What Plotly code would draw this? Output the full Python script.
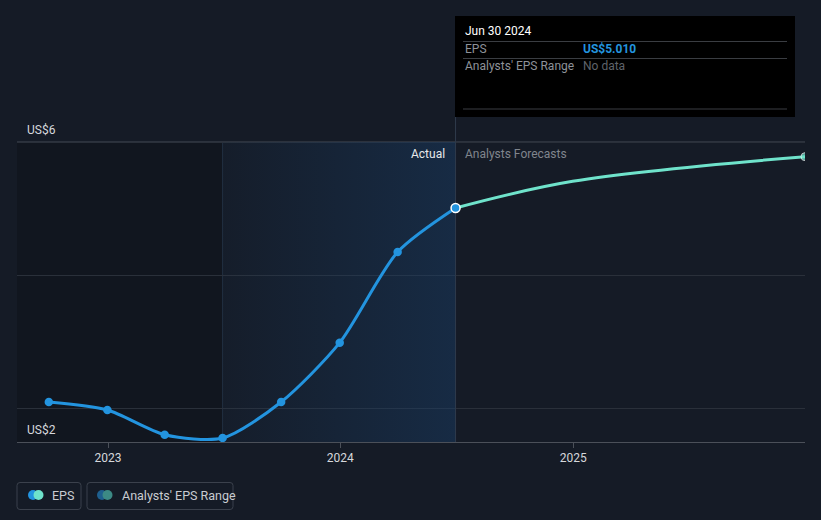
import plotly.graph_objects as go

# ---- data ----
actual_dates = ["2022-09-30", "2022-12-31", "2023-03-31", "2023-06-30",
                "2023-09-30", "2023-12-31", "2024-03-31", "2024-06-30"]
actual_eps = [2.10, 1.98, 1.61, 1.56, 2.10, 2.99, 4.35, 5.01]
forecast_dates = ["2024-06-30", "2024-12-31", "2025-12-31"]
forecast_eps = [5.01, 5.41, 5.78]
tick_dates = ["2023-01-01", "2024-01-01", "2025-01-01"]
tick_labels = ["2023", "2024", "2025"]
y_labels = ["US$6", "US$2"]
grid_values = [2, 4, 6]

W, H = 821, 520
L, R, T, B = 17, 16, 16, 78
PW, PH = W - L - R, H - T - B
BG = "#151b26"
FONT = "Roboto, 'Noto Sans', Arial, sans-serif"


def px(x):
    return (x - L) / PW


def py(y):
    return (H - B - y) / PH


fig = go.Figure()

shapes = []
annotations = []

# dark past region
shapes.append(dict(type="rect", xref="x", yref="y", x0="2022-08-01", x1="2023-06-30",
                   y0=1.5, y1=6, fillcolor="rgba(0,0,0,0.17)", line_width=0, layer="below"))
# top gridline (lighter)
shapes.append(dict(type="line", xref="paper", yref="y", x0=0, x1=1, y0=6, y1=6,
                   line=dict(color="#444a54", width=1), layer="below"))
# vertical lines
shapes.append(dict(type="line", xref="x", yref="y", x0="2023-06-30", x1="2023-06-30",
                   y0=1.5, y1=6, line=dict(color="rgba(60,90,120,0.35)", width=1), layer="below"))
shapes.append(dict(type="line", xref="x", yref="paper", x0="2024-06-30", x1="2024-06-30",
                   y0=0, y1=1, line=dict(color="#2e3a4a", width=1), layer="below"))

# highlighted last-year region with gradient
fig.add_trace(go.Scatter(
    x=["2023-06-30", "2024-06-30", "2024-06-30", "2023-06-30", "2023-06-30"],
    y=[1.5, 1.5, 6, 6, 1.5], mode="lines", line=dict(width=0),
    fill="toself",
    fillgradient=dict(type="horizontal",
                      colorscale=[[0, "rgba(25,65,110,0.06)"], [1, "rgba(25,65,110,0.42)"]]),
    hoverinfo="skip", showlegend=False))
# vertical divider above the fill
fig.add_trace(go.Scatter(
    x=["2024-06-30", "2024-06-30"], y=[1.5, 7.89], mode="lines",
    line=dict(color="#2e3a4a", width=1), hoverinfo="skip", showlegend=False))

# EPS actual line
fig.add_trace(go.Scatter(
    x=actual_dates, y=actual_eps, mode="lines+markers",
    line=dict(color="#2394df", width=3, shape="spline", smoothing=0.75),
    marker=dict(size=8.5, color="#2394df"), showlegend=False, hoverinfo="skip"))

# forecast line
fig.add_trace(go.Scatter(
    x=forecast_dates, y=forecast_eps, mode="lines+markers",
    line=dict(color="#6fe3cb", width=3, shape="spline", smoothing=1),
    marker=dict(size=[0, 0, 8], color="#6fe3cb"), showlegend=False, hoverinfo="skip"))

# highlighted point
fig.add_trace(go.Scatter(
    x=[actual_dates[-1]], y=[actual_eps[-1]], mode="markers",
    marker=dict(size=9, color="#2394df", line=dict(color="white", width=1.5)),
    showlegend=False, hoverinfo="skip"))


def text(x, y, s, color, size=11.5, anchor="left"):
    annotations.append(dict(xref="paper", yref="paper", x=px(x), y=py(y), text=s,
                            showarrow=False, xanchor=anchor, yanchor="middle",
                            font=dict(color=color, size=size, family=FONT)))


# y labels
text(25, 130, y_labels[0], "#d6d8dc", size=12)
text(25, 430, y_labels[1], "#d6d8dc", size=12)
# Actual / forecasts
text(447, 154, "Actual", "#e6e8ea", size=12, anchor="right")
text(463, 154, "Analysts Forecasts", "#80858d", size=12)

# tooltip box
shapes.append(dict(type="rect", xref="paper", yref="paper", x0=px(455), x1=px(795),
                   y0=py(117), y1=py(16), fillcolor="#000000", line_width=0, layer="above"))
for yy in (41.5, 58.5, 109):
    shapes.append(dict(type="line", xref="paper", yref="paper", x0=px(463), x1=px(787),
                       y0=py(yy), y1=py(yy), line=dict(color="#3a3d42", width=1), layer="above"))
text(463, 31, "Jun 30 2024", "#ffffff", size=12)
text(463, 49, "EPS", "#8e9299", size=12)
text(581, 49, "<b>US$5.010</b>", "#2394df", size=12)
text(463, 66, "Analysts' EPS Range", "#8e9299", size=12)
text(581, 66, "No data", "#5f636a", size=12)


# legend boxes
def rounded_rect(x0, y0, x1, y1, r):
    pts = [
        f"M {px(x0 + r)},{py(y0)}",
        f"L {px(x1 - r)},{py(y0)}",
        f"Q {px(x1)},{py(y0)} {px(x1)},{py(y0 + r)}",
        f"L {px(x1)},{py(y1 - r)}",
        f"Q {px(x1)},{py(y1)} {px(x1 - r)},{py(y1)}",
        f"L {px(x0 + r)},{py(y1)}",
        f"Q {px(x0)},{py(y1)} {px(x0)},{py(y1 - r)}",
        f"L {px(x0)},{py(y0 + r)}",
        f"Q {px(x0)},{py(y0)} {px(x0 + r)},{py(y0)} Z",
    ]
    return " ".join(pts)


for (x0, x1) in ((17, 81), (87, 233)):
    shapes.append(dict(type="path", xref="paper", yref="paper",
                       path=rounded_rect(x0, 482.5, x1, 509.5, 3),
                       line=dict(color="#3b414c", width=1), fillcolor="rgba(0,0,0,0)"))


def circle(cx, cy, r, color):
    return dict(type="circle", xref="paper", yref="paper", x0=px(cx - r), x1=px(cx + r),
                y0=py(cy + r), y1=py(cy - r), fillcolor=color, line_width=0)


shapes.append(circle(33, 495, 5, "#2394df"))
shapes.append(circle(38.5, 495, 5, "#6fe3cb"))
shapes.append(circle(102, 495, 5, "#1e5f8e"))
shapes.append(circle(107.5, 495, 5, "#3c8a85"))
text(50, 495.5, "EPS", "#c9ccd1", size=12.5)
text(120, 495.5, "Analysts' EPS Range", "#c9ccd1", size=12.5)

fig.update_layout(
    width=W, height=H,
    margin=dict(l=L, r=R, t=T, b=B),
    paper_bgcolor=BG, plot_bgcolor=BG,
    font=dict(family=FONT, color="#d6d8dc"),
    showlegend=False,
    shapes=shapes, annotations=annotations,
    xaxis=dict(type="date", range=["2022-08-11", "2025-12-31"],
               tickvals=tick_dates, ticktext=tick_labels,
               showgrid=False, zeroline=False,
               showline=True, linecolor="#4b5059", linewidth=1,
               ticks="outside", ticklen=5, tickcolor="#4b5059",
               tickfont=dict(size=12, color="#d6d8dc", family=FONT)),
    yaxis=dict(range=[1.5, 7.89], tickvals=grid_values, showticklabels=False,
               showgrid=True, gridcolor="#2a303a", gridwidth=1, zeroline=False,
               showline=False, fixedrange=True),
)

fig.write_html("out.html", config={"displayModeBar": False},
               post_script="document.body.style.margin='0px';"
               "document.body.style.background='%s';" % BG)
